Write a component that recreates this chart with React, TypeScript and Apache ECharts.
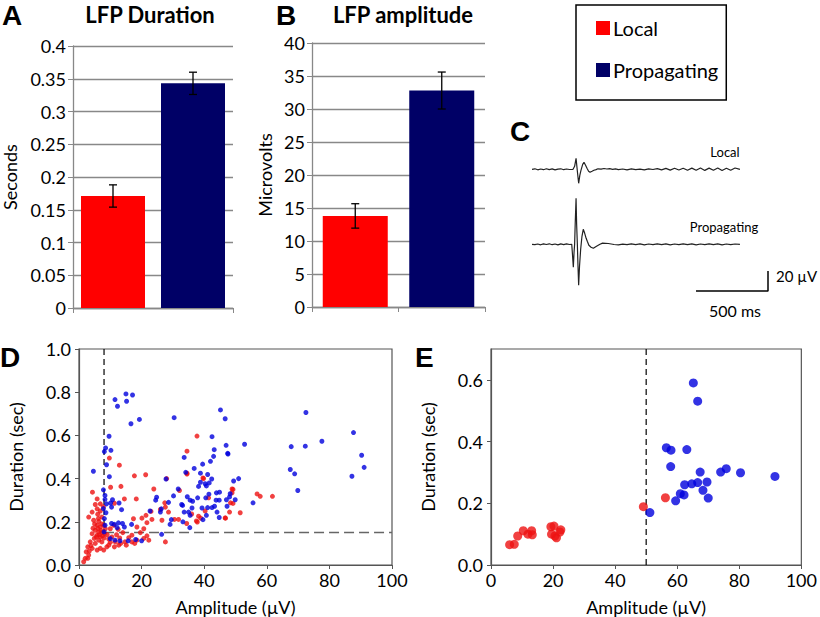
import React, { useEffect, useRef } from "react";
import * as echarts from "echarts";

// ---------- Panel A / B : bar charts ----------
const barCategories = ["Local", "Propagating"];
const durationMeans = [0.171, 0.343];
const durationErrors = [0.017, 0.017];
const amplitudeMeans = [13.8, 32.8];
const amplitudeErrors = [1.85, 2.8];

// ---------- Panel C : example traces (time ms, µV) ----------
const localTrace: number[][] = [
  [0, 0], [20, 0.5], [40, -0.5], [60, 0.3], [80, -0.4], [100, 0.6], [120, -0.3], [140, 0.4], [160, -0.6], [180, 0.2],
  [200, 0.5], [220, -0.4], [240, 0.3], [260, -0.2], [285, 0], [296, 3], [306, 11], [315, -2], [324, -14], [332, -6],
  [340, -1], [352, 5], [361, 7], [372, 4], [382, 1], [393, -2], [403, -3], [417, -2], [430, -1], [445, -0.3],
  [458, 0.5], [480, 0.2], [500, 0.8], [520, 0.3], [540, 0.6], [560, 0], [580, 0.4], [600, -0.3], [630, 0.3], [660, -0.5],
  [690, 0.4], [720, -0.3], [750, 0.2], [780, -0.6], [810, 0.5], [840, -0.2], [870, 0.7], [900, -0.6], [930, 0.9], [960, -0.8],
  [990, 1.0], [1020, -0.7], [1050, 1.1], [1080, -0.9], [1110, 1.2], [1140, -1.0], [1170, 1.3], [1200, -1.1], [1230, 1.2], [1260, -1.0],
  [1290, 1.4], [1320, -1.2], [1350, 1.1], [1380, -1.0], [1410, 1.3], [1444, 0],
];
const propagatingTrace: number[][] = [
  [0, 0], [20, -0.4], [40, 0.3], [60, -0.5], [80, 0.4], [100, -0.2], [120, 0.5], [140, -0.4], [160, 0.3], [180, -0.6],
  [200, 0.4], [220, -0.3], [240, 0.5], [260, -0.2], [276, 0], [281, -10], [287, -23], [292, -8], [296, 0], [300, 20],
  [306, 46], [310, 20], [315, 0], [319, -20], [324, -41], [330, -22], [338, -5], [347, 8], [356, 15], [366, 11],
  [376, 6], [384, 3], [395, -1], [410, -3], [426, -4], [448, -2], [472, 0], [490, 1.2], [510, 1.0], [530, 0.8],
  [550, 0.3], [570, -0.2], [600, -0.5], [630, 0.2], [660, -0.4], [690, 0.5], [720, -0.3], [750, 0.4], [780, -0.5], [810, 0.3],
  [840, -0.4], [870, 0.5], [900, -0.3], [930, 0.4], [960, -0.5], [990, 0.3], [1020, -0.4], [1050, 0.5], [1080, -0.3], [1110, 0.4],
  [1140, -0.5], [1170, 0.3], [1200, -0.4], [1230, 0.5], [1260, -0.3], [1290, 0.4], [1320, -0.5], [1350, 0.3], [1380, -0.4], [1410, 0.3],
  [1444, 0],
];
const scaleBar: number[][] = [[1139, -91], [1639, -91], [1639, -71]];

// ---------- Panel D : all events (amplitude µV, duration s) ----------
const dLocal: number[][] = [
  [37.7, 0.597], [34.5, 0.527], [9.7, 0.495], [12.9, 0.462], [21.3, 0.418], [17.7, 0.413], [28.0, 0.40],
  [39.6, 0.403], [34.5, 0.421], [23.9, 0.352], [32.1, 0.345], [48.9, 0.352], [4.3, 0.337], [13.4, 0.364], [10.1, 0.36],
  [11.3, 0.286], [14.5, 0.306], [18.3, 0.306], [56.9, 0.329], [57.9, 0.318], [61.8, 0.318], [48.4, 0.288],
  [51.5, 0.242], [46.8, 0.217], [48.1, 0.245], [38.9, 0.217], [37.8, 0.199], [36.0, 0.236], [30.5, 0.211], [31.8, 0.211],
  [27.4, 0.288], [27.6, 0.268], [26.0, 0.257], [28.6, 0.245], [26.5, 0.207], [23.0, 0.248], [21.4, 0.230], [20.1, 0.217],
  [17.4, 0.214], [21.7, 0.196], [23.3, 0.211], [18.5, 0.176], [27.6, 0.107], [20.7, 0.168], [19.6, 0.150], [21.7, 0.135],
  [20.7, 0.123], [22.3, 0.115], [16.9, 0.138], [15.9, 0.126], [14.7, 0.107], [13.3, 0.100], [12.7, 0.092], [11.3, 0.084],
  [16.9, 0.107], [17.8, 0.100], [18.5, 0.115], [15.1, 0.092], [9.5, 0.092], [11.6, 0.107], [34.4, 0.192], [38.2, 0.226],
  [37.5, 0.204], [40.3, 0.25], [49.2, 0.35], [48.9, 0.334], [49.2, 0.285], [46.7, 0.218], [41.4, 0.311], [34.5, 0.425],
  [39.8, 0.40],
  [5.8, 0.306], [6.8, 0.283], [5.8, 0.26], [4.2, 0.245], [3.1, 0.222], [4.7, 0.207], [6.3, 0.202], [7.3, 0.222],
  [5.8, 0.184], [6.8, 0.176], [5.2, 0.161], [6.3, 0.153], [7.3, 0.150], [4.2, 0.145], [5.8, 0.138], [6.8, 0.130],
  [4.9, 0.123], [6.3, 0.115], [3.6, 0.107], [5.2, 0.100], [2.8, 0.084], [4.2, 0.077], [6.8, 0.077], [2.3, 0.061],
  [3.1, 0.046], [2.0, 0.031], [1.5, 0.015], [2.8, 0.031], [7.9, 0.184], [8.4, 0.168], [8.1, 0.145], [7.3, 0.107],
  [8.9, 0.084], [7.9, 0.069], [5.8, 0.069], [11.1, 0.184], [10.0, 0.168], [7.0, 0.16], [6.0, 0.17], [7.5, 0.135],
  [8.0, 0.125], [6.5, 0.14], [5.5, 0.13], [7.2, 0.19], [6.2, 0.215], [5.0, 0.19], [4.5, 0.17], [3.8, 0.09],
  [3.3, 0.065], [9.0, 0.14], [9.5, 0.12], [10.5, 0.13], [12.0, 0.14], [13.0, 0.125], [14.0, 0.15], [12.5, 0.165],
  [10.0, 0.105], [6.8, 0.25], [7.8, 0.27], [5.2, 0.28], [6.0, 0.235],
];
const dPropagating: number[][] = [
  [4.6, 0.434], [15.0, 0.792], [15.2, 0.758], [11.5, 0.766], [12.3, 0.735], [17.1, 0.787], [16.6, 0.654], [19.3, 0.674],
  [30.4, 0.682], [45.2, 0.718], [46.7, 0.677], [72.5, 0.706], [87.7, 0.613], [77.6, 0.573], [72.3, 0.550], [67.8, 0.548],
  [90.3, 0.508], [91.1, 0.452], [87.2, 0.411], [67.5, 0.442], [68.9, 0.422], [69.9, 0.345], [52.9, 0.559], [47.0, 0.554],
  [47.5, 0.517], [43.2, 0.534], [42.5, 0.594], [43.0, 0.503], [33.6, 0.498], [9.6, 0.596], [8.5, 0.542], [8.1, 0.525],
  [10.2, 0.531], [8.8, 0.464], [9.7, 0.409], [7.8, 0.348], [8.3, 0.322], [8.3, 0.304], [8.8, 0.283], [7.8, 0.261],
  [8.6, 0.242], [8.1, 0.215], [8.3, 0.184], [8.0, 0.153], [10.7, 0.302], [10.1, 0.287], [10.4, 0.268], [12.8, 0.287],
  [13.6, 0.256], [10.4, 0.192], [11.3, 0.188], [12.6, 0.195], [13.9, 0.192], [16.8, 0.188], [12.2, 0.173], [14.5, 0.176],
  [10.0, 0.122], [11.5, 0.115], [13.1, 0.112], [15.7, 0.112], [18.1, 0.118], [20.0, 0.112], [26.4, 0.142], [22.7, 0.25],
  [24.8, 0.314], [31.7, 0.352], [29.1, 0.188], [34.1, 0.429], [33.1, 0.276], [33.6, 0.245], [27.8, 0.398],
  [24.5, 0.30], [26.3, 0.26], [28.6, 0.29], [30.2, 0.32], [32.8, 0.28], [29.5, 0.21], [26.0, 0.245], [33.2, 0.20],
  [47.6, 0.514], [42.0, 0.480], [39.5, 0.467], [36.8, 0.447], [38.8, 0.425], [41.1, 0.419], [42.4, 0.398], [38.8, 0.383],
  [40.3, 0.376], [41.6, 0.380], [40.7, 0.366], [38.2, 0.364], [49.4, 0.389], [51.0, 0.400], [48.3, 0.330], [49.9, 0.302],
  [55.6, 0.288], [34.6, 0.316], [35.5, 0.30], [36.3, 0.295], [37.9, 0.311], [40.5, 0.311], [41.5, 0.328], [43.9, 0.334],
  [44.9, 0.337], [43.8, 0.300], [44.8, 0.300], [47.1, 0.302], [48.1, 0.315], [47.3, 0.272], [44.1, 0.245], [41.1, 0.266],
  [42.5, 0.266], [43.3, 0.272], [39.3, 0.264], [36.1, 0.264], [35.0, 0.245], [35.5, 0.230], [40.7, 0.230], [39.6, 0.210],
  [35.4, 0.173], [44.8, 0.220],
];
const dAmpThreshold = 8;
const dDurThreshold = 0.15;

// ---------- Panel E : per-channel means ----------
const eLocal: number[][] = [
  [6.0, 0.066], [7.5, 0.067], [8.6, 0.094], [10.4, 0.111], [11.9, 0.10], [13.1, 0.111], [13.3, 0.098],
  [19.3, 0.124], [20.3, 0.126], [19.5, 0.10], [20.6, 0.094], [21.1, 0.088], [22.2, 0.107], [22.5, 0.114],
  [49.1, 0.189], [56.2, 0.218],
];
const ePropagating: number[][] = [
  [51.2, 0.170], [59.5, 0.208], [61.0, 0.231], [62.2, 0.227], [62.4, 0.260], [64.7, 0.263], [66.6, 0.267],
  [68.3, 0.242], [69.6, 0.269], [70.0, 0.217], [67.4, 0.301], [74.0, 0.301], [75.8, 0.312], [80.4, 0.299],
  [91.5, 0.287], [56.5, 0.380], [58.0, 0.372], [57.9, 0.319], [63.1, 0.374], [65.2, 0.590], [66.6, 0.531],
];
const eAmpThreshold = 50;

const RED = "#FF0000";
const NAVY = "#000066";
const SC_RED = "#EE1111";
const SC_BLUE = "#0000DD";
const FONT = "Lato";

export default function App() {
  const ref = useRef<HTMLDivElement>(null);
  useEffect(() => {
    if (!ref.current) return;
    const chart = echarts.init(ref.current, null, { renderer: "svg" });

    const errRender = (params: any, api: any) => {
      const x = api.value(0);
      const m = api.value(1);
      const e = api.value(2);
      const top = api.coord([x, m + e]);
      const bot = api.coord([x, m - e]);
      const st = { stroke: "#000", lineWidth: 1.3 };
      return {
        type: "group",
        children: [
          { type: "line", shape: { x1: top[0], y1: top[1], x2: bot[0], y2: bot[1] }, style: st },
          { type: "line", shape: { x1: top[0] - 4, y1: top[1], x2: top[0] + 4, y2: top[1] }, style: st },
          { type: "line", shape: { x1: bot[0] - 4, y1: bot[1], x2: bot[0] + 4, y2: bot[1] }, style: st },
        ],
      };
    };

    const barX = (gi: number) => ({
      type: "category",
      gridIndex: gi,
      data: barCategories,
      axisLine: { lineStyle: { color: "#888", width: 1.3 } },
      axisTick: { show: true, length: 5, lineStyle: { color: "#888" } },
      axisLabel: { show: false },
    });
    const barY = (gi: number, max: number, interval: number, name: string, gap: number, fmt: (v: number) => string) => ({
      type: "value",
      gridIndex: gi,
      min: 0,
      max,
      interval,
      name,
      nameLocation: "middle",
      nameGap: gap,
      nameTextStyle: { fontSize: 18, color: "#000", fontFamily: FONT },
      axisLine: { show: true, lineStyle: { color: "#888", width: 1.3 } },
      axisTick: { show: true, length: 5, lineStyle: { color: "#888" } },
      axisLabel: { fontSize: 18, color: "#000", fontFamily: FONT, margin: 7, formatter: fmt },
      splitLine: { show: true, lineStyle: { color: "#888", width: 1.3 } },
    });
    const scX = (gi: number) => ({
      type: "value",
      gridIndex: gi,
      min: 0,
      max: 100,
      interval: 20,
      name: "Amplitude (µV)",
      nameLocation: "middle",
      nameGap: 33,
      nameTextStyle: { fontSize: 18, color: "#000", fontFamily: FONT },
      axisLine: { lineStyle: { color: "#555", width: 1.2 } },
      axisTick: { show: true, length: 4, lineStyle: { color: "#555" } },
      axisLabel: { fontSize: 18, color: "#000", fontFamily: FONT, margin: 6 },
      splitLine: { show: false },
    });
    const scY = (gi: number, max: number, gap: number) => ({
      type: "value",
      gridIndex: gi,
      min: 0,
      max,
      interval: 0.2,
      name: "Duration (sec)",
      nameLocation: "middle",
      nameGap: gap,
      nameTextStyle: { fontSize: 18, color: "#000", fontFamily: FONT },
      axisLine: { show: true, lineStyle: { color: "#555", width: 1.2 } },
      axisTick: { show: true, length: 4, lineStyle: { color: "#555" } },
      axisLabel: { fontSize: 18, color: "#000", fontFamily: FONT, margin: 8, showMaxLabel: max === 1, formatter: (v: number) => v.toFixed(1) },
      splitLine: { show: false },
    });

    const letter = (t: string, x: number, y: number) => ({
      type: "text",
      x,
      y,
      style: { text: t, font: "bold 28px 'Liberation Sans'", fill: "#000", textAlign: "left", textVerticalAlign: "middle" },
    });
    const label = (t: string, x: number, y: number, size: number, bold = false, align = "center") => ({
      type: "text",
      x,
      y,
      style: { text: t, font: `${bold ? "bold " : ""}${size}px ${FONT}`, fill: "#000", textAlign: align, textVerticalAlign: "middle" },
    });

    const LOCAL_OFFSET = 30.7;
    const PROP_OFFSET = -44.3;

    chart.setOption({
      animation: false,
      textStyle: { fontFamily: FONT },
      legend: {
        left: 576,
        top: 5,
        orient: "vertical",
        padding: [13, 8, 20, 20],
        itemGap: 22,
        itemWidth: 14,
        itemHeight: 14,
        icon: "rect",
        borderColor: "#000",
        borderWidth: 1.5,
        textStyle: { fontSize: 20, color: "#000", fontFamily: FONT, padding: [0, 0, 0, -2] },
        selectedMode: false,
        data: [
          { name: "Local", itemStyle: { color: RED } },
          { name: "Propagating", itemStyle: { color: NAVY } },
        ],
      },
      grid: [
        { left: 70, top: 46, width: 163, height: 262 },
        { left: 312, top: 43, width: 173, height: 264 },
        { left: 532, top: 140, width: 236, height: 160 },
        { left: 79, top: 349, width: 313, height: 218, show: true, borderColor: "#555", borderWidth: 1.2 },
        { left: 491, top: 349, width: 319, height: 218, show: true, borderColor: "#555", borderWidth: 1.2 },
      ],
      xAxis: [
        barX(0),
        barX(1),
        { type: "value", gridIndex: 2, min: 0, max: 1639, show: false },
        scX(3),
        scX(4),
      ],
      yAxis: [
        barY(0, 0.4, 0.05, "Seconds", 54, (v: number) => String(Number(v.toFixed(2)))),
        barY(1, 40, 5, "Microvolts", 38, (v: number) => String(v)),
        { type: "value", gridIndex: 2, min: -100, max: 60, show: false },
        scY(3, 1, 54),
        scY(4, 0.7, 54),
      ],
      series: [
        { name: "Local", type: "bar", xAxisIndex: 0, yAxisIndex: 0, data: [durationMeans[0], "-"], barWidth: 64, barGap: "-100%", itemStyle: { color: RED } },
        { name: "Propagating", type: "bar", xAxisIndex: 0, yAxisIndex: 0, data: ["-", durationMeans[1]], barWidth: 64, barGap: "-100%", itemStyle: { color: NAVY } },
        { type: "custom", xAxisIndex: 0, yAxisIndex: 0, renderItem: errRender, data: durationMeans.map((m, i) => [i, m, durationErrors[i]]), z: 5 },
        { name: "Local", type: "bar", xAxisIndex: 1, yAxisIndex: 1, data: [amplitudeMeans[0], "-"], barWidth: 65, barGap: "-100%", itemStyle: { color: RED } },
        { name: "Propagating", type: "bar", xAxisIndex: 1, yAxisIndex: 1, data: ["-", amplitudeMeans[1]], barWidth: 65, barGap: "-100%", itemStyle: { color: NAVY } },
        { type: "custom", xAxisIndex: 1, yAxisIndex: 1, renderItem: errRender, data: amplitudeMeans.map((m, i) => [i, m, amplitudeErrors[i]]), z: 5 },
        {
          type: "line", xAxisIndex: 2, yAxisIndex: 2, symbol: "none",
          data: localTrace.map(([t, v]) => [t, v + LOCAL_OFFSET]),
          lineStyle: { color: "#222", width: 1.2 },
        },
        {
          type: "line", xAxisIndex: 2, yAxisIndex: 2, symbol: "none",
          data: propagatingTrace.map(([t, v]) => [t, v + PROP_OFFSET]),
          lineStyle: { color: "#222", width: 1.2 },
        },
        { type: "line", xAxisIndex: 2, yAxisIndex: 2, symbol: "none", data: scaleBar, lineStyle: { color: "#000", width: 1.5 } },
        { name: "Local", type: "scatter", xAxisIndex: 3, yAxisIndex: 3, data: dLocal, symbolSize: 5, itemStyle: { color: SC_RED } },
        { name: "Propagating", type: "scatter", xAxisIndex: 3, yAxisIndex: 3, data: dPropagating, symbolSize: 5, itemStyle: { color: SC_BLUE } },
        {
          type: "line", xAxisIndex: 3, yAxisIndex: 3, symbol: "none",
          data: [[dAmpThreshold, 1], [dAmpThreshold, dDurThreshold]],
          lineStyle: { color: "#000", width: 1.2, type: [6, 4] }, z: 1,
        },
        {
          type: "line", xAxisIndex: 3, yAxisIndex: 3, symbol: "none",
          data: [[dAmpThreshold, dDurThreshold], [100, dDurThreshold]],
          lineStyle: { color: "#666", width: 1.5, type: [10, 5] }, z: 1,
        },
        { name: "Local", type: "scatter", xAxisIndex: 4, yAxisIndex: 4, data: eLocal, symbolSize: 9, itemStyle: { color: SC_RED } },
        { name: "Propagating", type: "scatter", xAxisIndex: 4, yAxisIndex: 4, data: ePropagating, symbolSize: 9, itemStyle: { color: SC_BLUE } },
        {
          type: "line", xAxisIndex: 4, yAxisIndex: 4, symbol: "none",
          data: [[eAmpThreshold, 0], [eAmpThreshold, 0.7]],
          lineStyle: { color: "#000", width: 1.2, type: [6, 4] }, z: 1,
        },
      ],
      graphic: [
        letter("A", 2, 15),
        letter("B", 276, 15),
        letter("C", 510, 131),
        letter("D", 0, 357),
        letter("E", 415, 357),
        label("LFP Duration", 150, 14, 22, true),
        label("LFP amplitude", 403, 14, 22, true),
        label("Local", 725, 152, 13),
        label("Propagating", 724, 227, 13),
        label("20 µV", 776, 276, 15, false, "left"),
        label("500 ms", 735, 310, 16),
      ],
    });
    return () => chart.dispose();
  }, []);
  return <div ref={ref} style={{ position: "absolute", left: 0, top: 0, width: 820, height: 617 }} />;
}
